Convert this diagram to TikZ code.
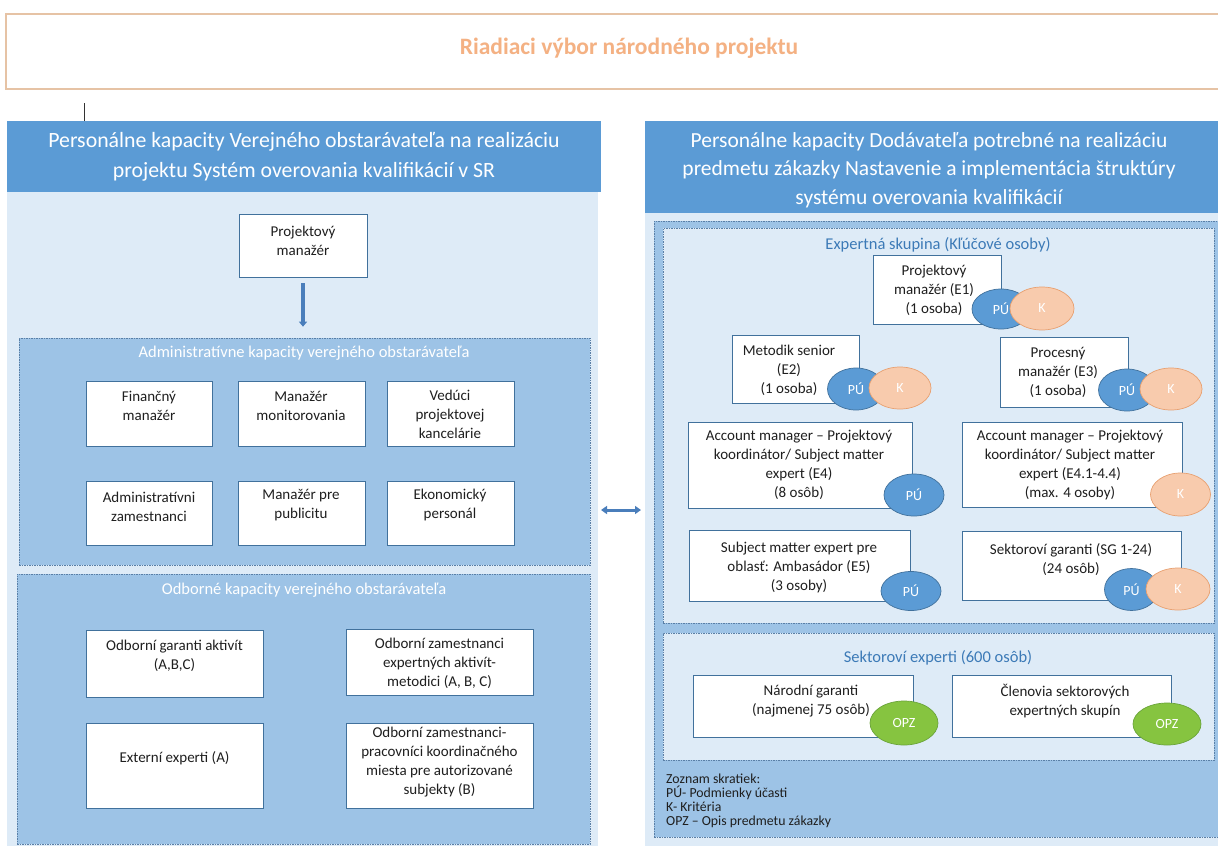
\documentclass[tikz,border=0pt]{standalone}
\usepackage{fontspec}
\setmainfont{Carlito}
\usetikzlibrary{arrows.meta,shapes.geometric}
\definecolor{hdrblue}{HTML}{5B9BD5}
\definecolor{lightbg}{HTML}{DEEBF7}
\definecolor{midbg}{HTML}{9DC3E6}
\definecolor{bxline}{HTML}{41719C}
\definecolor{dashcol}{HTML}{5A7FA6}
\definecolor{pufill}{HTML}{5B9BD5}
\definecolor{puline}{HTML}{41719C}
\definecolor{kfill}{HTML}{F8CBAD}
\definecolor{kline}{HTML}{E8A070}
\definecolor{opzfill}{HTML}{86C440}
\definecolor{opzline}{HTML}{6AA43A}
\definecolor{titleor}{HTML}{F4B183}
\definecolor{titlebd}{HTML}{E6C3A5}
\definecolor{grpblue}{HTML}{3C7AB7}
\definecolor{arrcol}{HTML}{4A7EBB}
\definecolor{txtcol}{HTML}{1F1F1F}
\newcommand\mkrect[6]{%
  \pgfmathsetmacro\bxw{#5-#3}\pgfmathsetmacro\bxh{#6-#4}%
  \pgfmathsetmacro\bxcx{(#3+#5)/2}\pgfmathsetmacro\bxcy{(#4+#6)/2}%
  \node[inner sep=0pt, #1, minimum width=\bxw pt, minimum height=\bxh pt] (#2) at (\bxcx,\bxcy) {};}
\newcommand\mkell[6]{%
  \pgfmathsetmacro\elw{2*#5}\pgfmathsetmacro\elh{2*#6}%
  \node[#1, minimum width=\elw pt, minimum height=\elh pt] (#2) at (#3,#4) {};}
\begin{document}
\begin{tikzpicture}[x=1pt,y=-1pt,
  wbox/.style={draw=bxline, fill=white, line width=0.8pt},
  dasharea/.style={draw=dashcol, line width=0.6pt, dash pattern=on 1.5pt off 1pt},
  btext/.style={font=\fontsize{15}{19}\selectfont, align=center, text=txtcol, inner sep=0pt},
  htext/.style={font=\fontsize{21.8}{30}\selectfont, align=center, text=white, inner sep=0pt},
  gtitle/.style={font=\fontsize{16.5}{19}\selectfont, inner sep=0pt},
  ellbase/.style={ellipse, inner sep=0pt, line width=0.7pt},
  puell/.style={ellbase, fill=pufill, draw=puline},
  kell/.style={ellbase, fill=kfill, draw=kline},
  opzell/.style={ellbase, fill=opzfill, draw=opzline},
  elltext/.style={text=white, inner sep=0pt, font=\fontsize{14}{14}\selectfont},
  arrst/.style={draw=arrcol, line width=4pt, -{Triangle[width=8pt,length=5pt]}},
  dblarr/.style={draw=arrcol, line width=3pt, {Triangle[width=8pt,length=6pt]}-{Triangle[width=8pt,length=6pt]}}
  ]
\useasboundingbox (0,0) rectangle (1218,846);
\clip (0,0) rectangle (1218,846);
\fill[white] (0,0) rectangle (1218,846);

% title
\mkrect{draw=titlebd, fill=white, line width=1.5pt}{titlebox}{6}{14}{1240}{89}
\node[font=\bfseries\fontsize{23.5}{26}\selectfont, text=titleor] (title) at (629,48) {Riadiaci výbor národného projektu};
\coordinate (tick1) at (84,103);
\coordinate (tick2) at (84,121);
\draw[line width=0.8pt, black!80] (tick1) -- (tick2);

% ===== left panel
\mkrect{fill=hdrblue}{lhdr}{7}{121}{601}{192}
\node[htext] (lhdrt) at (304,157) {Personálne kapacity Verejného obstarávateľa na realizáciu\\projektu Systém overovania kvalifikácií v SR};
\mkrect{fill=lightbg}{lpanel}{7}{192}{598}{846}

\mkrect{wbox}{pm}{239}{214}{367}{277}
\node[btext] (pmt) at (303,241) {Projektový\\manažér};

\mkrect{dasharea, fill=midbg}{admin}{19}{338}{590}{565}
\node[gtitle, text=white] (admint) at (304,353) {Administratívne kapacity verejného obstarávateľa};
\draw[arrst] ([yshift=-6pt]pm.south) -- ([yshift=11pt]pm.south |- admin.north);

\mkrect{wbox}{fin}{86}{381}{212}{446}
\node[btext] (fint) at (149,406) {Finančný\\manažér};
\mkrect{wbox}{mon}{238}{381}{365}{446}
\node[btext] (mont) at (301,406) {Manažér\\monitorovania};
\mkrect{wbox}{ved}{387}{381}{514}{446}
\node[btext] (vedt) at (450,414) {Vedúci\\projektovej\\kancelárie};
\mkrect{wbox}{adz}{86}{481}{212}{545}
\node[btext] (adzt) at (149,507) {Administratívni\\zamestnanci};
\mkrect{wbox}{pub}{238}{481}{365}{545}
\node[btext] (pubt) at (301,505) {Manažér pre\\publicitu};
\mkrect{wbox}{eko}{387}{481}{514}{545}
\node[btext] (ekot) at (450,505) {Ekonomický\\personál};

\mkrect{dasharea, fill=midbg}{odb}{17}{574}{590}{844}
\node[gtitle, text=white] (odbt) at (304,590) {Odborné kapacity verejného obstarávateľa};
\mkrect{wbox}{oga}{86}{630}{263}{697}
\node[btext] (ogat) at (174.5,656) {Odborní garanti aktivít\\(A,B,C)};
\mkrect{wbox}{oze}{346}{629}{533}{695}
\node[btext] (ozet) at (439.5,663) {Odborní zamestnanci\\expertných aktivít-\\metodici (A, B, C)};
\mkrect{wbox}{exe}{86}{723}{263}{808}
\node[btext] (exet) at (174.5,758) {Externí experti (A)};
\mkrect{wbox}{ozp}{346}{723}{533}{808}
\node[btext] (ozpt) at (439.5,762) {Odborní zamestnanci-\\pracovníci koordinačného\\miesta pre autorizované\\subjekty (B)};

% ===== right panel
\mkrect{fill=hdrblue}{rhdr}{645}{121}{1240}{213}
\node[htext, font=\fontsize{21.5}{28.5}\selectfont] (rhdrt) at (929,170) {Personálne kapacity Dodávateľa potrebné na realizáciu\\predmetu zákazky Nastavenie a implementácia štruktúry\\systému overovania kvalifikácií};
\mkrect{fill=lightbg}{rpanel}{645}{213}{1240}{846}
\mkrect{dasharea, fill=midbg}{rout}{654}{221}{1240}{837}
\mkrect{dasharea, fill=lightbg}{exp}{663}{228}{1214}{623}
\node[gtitle, text=grpblue] (expt) at (938,245) {Expertná skupina (Kľúčové osoby)};

\mkrect{wbox}{e1}{873}{255}{1001}{324}
\node[btext] (e1t) at (934,290) {Projektový\\manažér (E1)\\(1 osoba)};
\mkell{puell}{e1p}{1001}{309}{29}{20}
\mkell{kell}{e1k}{1042}{308.5}{32}{21.5}
\node[elltext] (e1pt) at (e1p) {PÚ};
\node[elltext] (e1kt) at (e1k) {K};

\mkrect{wbox}{e2}{732}{335}{859}{403}
\node[btext] (e2t) at (789,370) {Metodik senior\\(E2)\\(1 osoba)};
\mkell{puell}{e2p}{856}{389}{28.5}{21}
\mkell{kell}{e2k}{900}{388}{31}{21}
\node[elltext] (e2pt) at (e2p) {PÚ};
\node[elltext] (e2kt) at (e2k) {K};

\mkrect{wbox}{e3}{1000}{337}{1128}{407}
\node[btext] (e3t) at (1058,372) {Procesný\\manažér (E3)\\(1 osoba)};
\mkell{puell}{e3p}{1127}{390}{28.5}{21}
\mkell{kell}{e3k}{1171}{389}{31}{21}
\node[elltext] (e3pt) at (e3p) {PÚ};
\node[elltext] (e3kt) at (e3k) {K};

\mkrect{wbox}{e4}{688}{422}{912}{508}
\node[btext] (e4t) at (799,464.5) {Account manager – Projektový\\koordinátor/ Subject matter\\expert (E4)\\(8 osôb)};
\mkell{puell}{e4p}{914}{495}{30}{21}
\node[elltext] (e4pt) at (e4p) {PÚ};

\mkrect{wbox}{e41}{962}{422}{1182}{507}
\node[btext] (e41t) at (1070,464.5) {Account manager – Projektový\\koordinátor/ Subject matter\\expert (E4.1-4.4)\\(max. 4 osoby)};
\mkell{kell}{e41k}{1180.5}{494.5}{30}{21.5}
\node[elltext] (e41kt) at (e41k) {K};

\mkrect{wbox}{e5}{689}{530}{910}{601}
\node[btext] (e5t) at (799,567) {Subject matter expert pre\\oblasť: Ambasádor (E5)\\(3 osoby)};
\mkell{puell}{e5p}{911}{591}{30}{19.5}
\node[elltext] (e5pt) at (e5p) {PÚ};

\mkrect{wbox}{sg}{962}{531}{1181}{600}
\node[btext] (sgt) at (1071,560) {Sektoroví garanti (SG 1-24)\\(24 osôb)};
\mkell{puell}{sgp}{1131.5}{589.5}{27}{21}
\mkell{kell}{sgk}{1178}{589}{32}{21}
\node[elltext] (sgpt) at (sgp) {PÚ};
\node[elltext] (sgkt) at (sgk) {K};

\mkrect{dasharea, fill=lightbg}{sek}{663}{633}{1214}{760}
\node[gtitle, text=grpblue] (sekt) at (938,658) {Sektoroví experti (600 osôb)};
\mkrect{wbox}{nar}{693}{675}{913}{737}
\node[btext] (nart) at (811,701) {Národní garanti\\(najmenej 75 osôb)};
\mkell{opzell}{narz}{904}{723}{34}{22}
\node[elltext] (narzt) at (narz) {OPZ};
\mkrect{wbox}{cle}{952}{675}{1171}{737}
\node[btext] (clet) at (1065,701) {Členovia sektorových\\expertných skupín};
\mkell{opzell}{clez}{1167}{724}{34}{21}
\node[elltext] (clezt) at (clez) {OPZ};

\node[font=\fontsize{13.8}{14.2}\selectfont, align=left, anchor=west, inner sep=0pt, text=txtcol] (legend) at (666,801) {Zoznam skratiek:\\PÚ- Podmienky účasti\\K- Kritéria\\OPZ – Opis predmetu zákazky};

% double arrow between the panels
\coordinate (da1) at (601,510);
\coordinate (da2) at (641,510);
\draw[dblarr] (da1) -- (da2);
\end{tikzpicture}
\end{document}
